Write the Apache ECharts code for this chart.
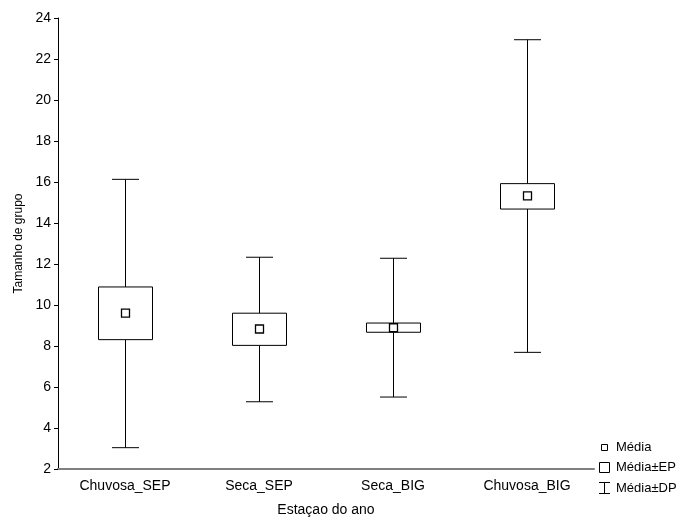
<!DOCTYPE html>
<html><head><meta charset="utf-8">
<script src="https://cdn.jsdelivr.net/npm/echarts@6/dist/echarts.min.js"></script>
<style>html,body{margin:0;padding:0;background:#fff}#c{width:684px;height:519px}</style>
</head><body><div id="c"></div>
<script>
const categories = ['Chuvosa_SEP', 'Seca_SEP', 'Seca_BIG', 'Chuvosa_BIG'];
const meanValues = [9.6, 8.83, 8.89, 15.32];
const epLow = [8.31, 8.03, 8.67, 14.68];
const epHigh = [10.88, 9.6, 9.12, 15.92];
const dpLow = [3.04, 5.28, 5.51, 7.69];
const dpHigh = [16.13, 12.33, 12.28, 22.94];
const yTicks = [2, 24, 2];

const FONT = 'Liberation Sans, Arial, sans-serif';
const chart = echarts.init(document.getElementById('c'));
const data = categories.map((c, i) => [i, meanValues[i], epLow[i], epHigh[i], dpLow[i], dpHigh[i]]);

chart.setOption({
  animation: false,
  grid: { left: 58, top: 18, right: 90, bottom: 50, containLabel: false, outerBoundsMode: 'none' },
  xAxis: {
    type: 'category', data: categories,
    name: 'Estaçao do ano', nameLocation: 'middle', nameGap: 34,
    nameTextStyle: { fontFamily: FONT, fontSize: 14, color: '#000' },
    axisLine: { lineStyle: { color: '#808080', width: 2 } },
    axisTick: { alignWithLabel: true, inside: true, length: 3, lineStyle: { color: '#000' } },
    axisLabel: { fontFamily: FONT, fontSize: 14, color: '#000', margin: 10 },
    splitLine: { show: false }
  },
  yAxis: {
    type: 'value', min: yTicks[0], max: yTicks[1], interval: yTicks[2],
    name: 'Tamanho de grupo', nameLocation: 'middle', nameGap: 33,
    nameTextStyle: { fontFamily: FONT, fontSize: 12, color: '#000' },
    axisLine: { show: true, lineStyle: { color: '#000', width: 1 } },
    axisTick: { show: true, length: 4, lineStyle: { color: '#000' } },
    axisLabel: { fontFamily: FONT, fontSize: 14, color: '#000', margin: 7 },
    splitLine: { show: false }
  },
  series: [{
    type: 'custom',
    data: data,
    encode: { x: 0, y: [1, 2, 3, 4, 5] },
    renderItem: function (params, api) {
      const i = api.value(0);
      const c = api.coord([i, api.value(1)]);
      const x = Math.round(c[0]) + 0.5;
      const yMean = api.coord([i, api.value(1)])[1];
      const yEL = api.coord([i, api.value(2)])[1];
      const yEH = api.coord([i, api.value(3)])[1];
      const yDL = api.coord([i, api.value(4)])[1];
      const yDH = api.coord([i, api.value(5)])[1];
      const bw = 54, cw = 27, mw = 8;
      const st = { stroke: '#000', lineWidth: 1, fill: null };
      return {
        type: 'group',
        children: [
          { type: 'line', shape: { x1: x, y1: yDH, x2: x, y2: yEH }, style: st },
          { type: 'line', shape: { x1: x, y1: yEL, x2: x, y2: yDL }, style: st },
          { type: 'line', shape: { x1: x - cw / 2, y1: yDH, x2: x + cw / 2, y2: yDH }, style: st },
          { type: 'line', shape: { x1: x - cw / 2, y1: yDL, x2: x + cw / 2, y2: yDL }, style: st },
          { type: 'rect', shape: { x: x - bw / 2, y: yEH, width: bw, height: yEL - yEH }, style: { stroke: '#000', lineWidth: 1, fill: '#fff' } },
          { type: 'rect', shape: { x: x - mw / 2, y: yMean - mw / 2, width: mw, height: mw }, style: { stroke: '#000', lineWidth: 1.3, fill: '#fff' } }
        ]
      };
    }
  }],
  graphic: [
    { type: 'rect', shape: { x: 601.5, y: 444.5, width: 6, height: 6 }, style: { stroke: '#000', lineWidth: 1, fill: '#fff' } },
    { type: 'text', x: 616, y: 447, style: { text: 'Média', font: '13px ' + FONT, fill: '#000', textVerticalAlign: 'middle' } },
    { type: 'rect', shape: { x: 599.5, y: 462.5, width: 10, height: 10 }, style: { stroke: '#000', lineWidth: 1, fill: '#fff' } },
    { type: 'text', x: 616, y: 467.5, style: { text: 'Média±EP', font: '13px ' + FONT, fill: '#000', textVerticalAlign: 'middle' } },
    { type: 'line', shape: { x1: 599, y1: 482.5, x2: 610, y2: 482.5 }, style: { stroke: '#000', lineWidth: 1 } },
    { type: 'line', shape: { x1: 604.5, y1: 482.5, x2: 604.5, y2: 493.5 }, style: { stroke: '#000', lineWidth: 1 } },
    { type: 'line', shape: { x1: 599, y1: 493.5, x2: 610, y2: 493.5 }, style: { stroke: '#000', lineWidth: 1 } },
    { type: 'text', x: 616, y: 488, style: { text: 'Média±DP', font: '13px ' + FONT, fill: '#000', textVerticalAlign: 'middle' } }
  ]
});
</script></body></html>
